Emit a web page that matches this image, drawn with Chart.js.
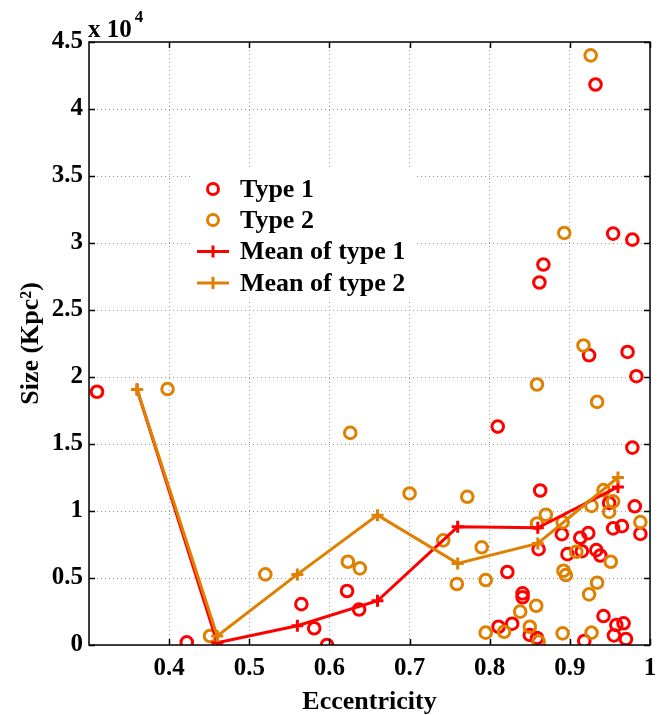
<!DOCTYPE html>
<html>
<head>
<meta charset="utf-8">
<script src="https://cdn.jsdelivr.net/npm/chart.js@4/dist/chart.umd.min.js"></script>
<style>
  body { margin: 0; background: #fff; }
  canvas { display: block; }
</style>
</head>
<body>
<canvas id="myChart" width="671" height="715"></canvas>
<script>
// datos
const type1Ecc = [0.310, 0.422, 0.565, 0.581, 0.597, 0.622, 0.637, 0.810, 0.822, 0.811, 0.828, 0.841, 0.841, 0.850, 0.859,
  0.861, 0.863, 0.862, 0.867, 0.890, 0.897, 0.915, 0.913, 0.923, 0.918, 0.933, 0.938, 0.942, 0.949, 0.954, 0.965,
  0.955, 0.958, 0.967, 0.970, 0.978, 0.981, 0.988, 0.983, 0.972, 0.924, 0.954, 0.978, 0.932];
const type1Size = [18900, 200, 3050, 1250, 0, 4030, 2650, 16300, 5450, 1360, 1590, 3850, 3560, 750, 520,
  7150, 11530, 27050, 28390, 8270, 6780, 7000, 8000, 8350, 300, 7080, 6680, 2160, 10600, 8700, 8870,
  720, 1490, 1620, 450, 14730, 10350, 8290, 20060, 21870, 21620, 30700, 30250, 41830];

const type2Ecc = [0.398, 0.451, 0.520, 0.623, 0.638, 0.626, 0.700, 0.742, 0.759, 0.772, 0.790, 0.795, 0.795, 0.818,
  0.838, 0.850, 0.858, 0.861, 0.859, 0.870, 0.859, 0.891, 0.892, 0.895, 0.891, 0.893, 0.908, 0.917, 0.924, 0.927,
  0.927, 0.934, 0.934, 0.926, 0.942, 0.954, 0.949, 0.951, 0.988];
const type2Size = [19100, 670, 5270, 6210, 5720, 15830, 11310, 7810, 4550, 11060, 7290, 4850, 920, 990,
  2490, 1360, 2930, 250, 9070, 9720, 19440, 9170, 5540, 5220, 870, 30750, 6960, 22350, 3780, 920,
  10380, 4650, 18140, 44000, 11560, 10720, 9930, 6210, 9170];

const meanEcc = [0.36, 0.46, 0.56, 0.66, 0.76, 0.86, 0.96];
const mean1Size = [19070, 170, 1440, 3300, 8820, 8750, 11800];
const mean2Size = [19070, 670, 5270, 9690, 6090, 7580, 12500];

const xTicks = [0.4, 0.5, 0.6, 0.7, 0.8, 0.9, 1];
const yTicks = [0, 5000, 10000, 15000, 20000, 25000, 30000, 35000, 40000, 45000];

const rojo = "#ff0000";
const naranjo = "#e08000";
const fuente = "'Liberation Serif', 'DejaVu Serif', serif";

const toPoints = (xs, ys) => xs.map((x, i) => ({x: x, y: ys[i]}));

// leyenda dentro del grafico, con fondo blanco
const leyenda = {
  id: "leyenda",
  afterDraw(chart){
    const ctx = chart.ctx;
    ctx.save();
    ctx.fillStyle = "#fff";
    ctx.fillRect(190, 168, 225, 134);
    const filas = [189, 220, 251.5, 283];
    chart.data.datasets.forEach((ds, i) => {
      const y = filas[i];
      ctx.strokeStyle = ds.borderColor;
      ctx.lineWidth = 3;
      if (ds.showLine){
        ctx.beginPath();
        ctx.moveTo(197, y); ctx.lineTo(229, y);
        ctx.moveTo(213, y - 6); ctx.lineTo(213, y + 6);
        ctx.stroke();
      } else {
        ctx.beginPath();
        ctx.arc(213, y, 5.5, 0, Math.PI * 2);
        ctx.stroke();
      }
      ctx.fillStyle = "#000";
      ctx.font = "bold 26px " + fuente;
      ctx.textBaseline = "middle";
      ctx.textAlign = "left";
      ctx.fillText(ds.label, 240, y + 1);
    });
    ctx.restore();
  }
};

// marco, ticks hacia dentro y el "x 10^4"
const marco = {
  id: "marco",
  afterDraw(chart){
    const ctx = chart.ctx;
    const a = chart.chartArea;
    const sx = chart.scales.x;
    const sy = chart.scales.y;
    ctx.save();
    ctx.strokeStyle = "#000";
    ctx.lineWidth = 1.5;
    ctx.strokeRect(a.left, a.top, a.right - a.left, a.bottom - a.top);
    ctx.beginPath();
    xTicks.forEach(v => {
      const px = Math.round(sx.getPixelForValue(v)) + 0.5;
      ctx.moveTo(px, a.bottom); ctx.lineTo(px, a.bottom - 6);
      ctx.moveTo(px, a.top); ctx.lineTo(px, a.top + 6);
    });
    yTicks.forEach(v => {
      const py = Math.round(sy.getPixelForValue(v)) + 0.5;
      ctx.moveTo(a.left, py); ctx.lineTo(a.left + 6, py);
      ctx.moveTo(a.right, py); ctx.lineTo(a.right - 6, py);
    });
    ctx.stroke();
    ctx.fillStyle = "#000";
    ctx.textAlign = "left";
    ctx.textBaseline = "alphabetic";
    ctx.font = "bold 25px " + fuente;
    ctx.fillText("x 10", a.left - 1, a.top - 5);
    const w = ctx.measureText("x 10").width;
    ctx.font = "bold 17px " + fuente;
    ctx.fillText("4", a.left + w + 2, a.top - 20);
    ctx.restore();
  }
};

const chartDOM = document.getElementById("myChart");
let myChart = new Chart(chartDOM, {
  type: "scatter",
  data: {
    datasets: [
      {
        label: "Type 1",
        data: toPoints(type1Ecc, type1Size),
        borderColor: rojo,
        backgroundColor: "rgba(0,0,0,0)",
        borderWidth: 3,
        pointRadius: 5.8,
        pointBorderWidth: 3,
        showLine: false,
        order: 4
      },
      {
        label: "Type 2",
        data: toPoints(type2Ecc, type2Size),
        borderColor: naranjo,
        backgroundColor: "rgba(0,0,0,0)",
        borderWidth: 3,
        pointRadius: 5.8,
        pointBorderWidth: 3,
        showLine: false,
        order: 3
      },
      {
        label: "Mean of type 1",
        data: toPoints(meanEcc, mean1Size),
        borderColor: rojo,
        backgroundColor: rojo,
        borderWidth: 3,
        pointStyle: "cross",
        pointRadius: 6,
        pointBorderWidth: 3,
        showLine: true,
        order: 2
      },
      {
        label: "Mean of type 2",
        data: toPoints(meanEcc, mean2Size),
        borderColor: naranjo,
        backgroundColor: naranjo,
        borderWidth: 3,
        pointStyle: "cross",
        pointRadius: 6,
        pointBorderWidth: 3,
        showLine: true,
        order: 1
      }
    ]
  },
  options: {
    responsive: false,
    animation: false,
    devicePixelRatio: 1,
    layout: { padding: { left: 0, top: 42, right: 21, bottom: 0 } },
    plugins: {
      legend: { display: false },
      tooltip: { enabled: false }
    },
    scales: {
      x: {
        type: "linear",
        min: 0.3,
        max: 1,
        afterFit: (scale) => { scale.height = 70; },
        afterBuildTicks: (scale) => { scale.ticks = [0.3].concat(xTicks).map(v => ({value: v})); },
        grid: { color: "#9a9a9a", lineWidth: 1, drawTicks: false },
        border: { display: false, dash: [1, 3] },
        ticks: {
          color: "#000",
          padding: 9,
          font: { family: fuente, size: 25, weight: "bold" },
          callback: (v) => v < 0.35 ? "" : String(Math.round(v * 10) / 10)
        },
        title: {
          display: true,
          text: "Eccentricity",
          color: "#000",
          padding: { top: 0, bottom: -3 },
          font: { family: fuente, size: 26, weight: "bold" }
        }
      },
      y: {
        type: "linear",
        min: 0,
        max: 45000,
        afterFit: (scale) => { scale.width = 89; },
        afterBuildTicks: (scale) => { scale.ticks = yTicks.map(v => ({value: v})); },
        grid: { color: "#9a9a9a", lineWidth: 1, drawTicks: false },
        border: { display: false, dash: [1, 3] },
        ticks: {
          color: "#000",
          padding: 6,
          font: { family: fuente, size: 25, weight: "bold" },
          callback: (v) => String(v / 10000)
        },
        title: {
          display: true,
          text: "Size (Kpc²)",
          color: "#000",
          padding: { top: 16, bottom: 0 },
          font: { family: fuente, size: 26, weight: "bold" }
        }
      }
    }
  },
  plugins: [leyenda, marco]
});
</script>
</body>
</html>
